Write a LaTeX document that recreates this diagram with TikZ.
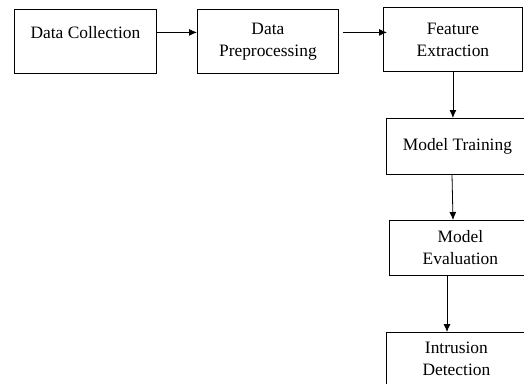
\documentclass[tikz,border=0pt]{standalone}
\usepackage{fontspec}
\setmainfont{Liberation Serif}
\usetikzlibrary{arrows.meta}

\tikzset{
  stage/.style={draw=black,line width=0.8pt,anchor=north west,align=center,
    inner sep=2pt,font=\fontsize{17.4}{22}\selectfont},
  flow/.style={draw=black,line width=0.8pt,-{Latex[length=8pt,width=7pt]}}
}

\begin{document}
\begin{tikzpicture}[x=1pt,y=-1pt]
\useasboundingbox (0,0) rectangle (524,383);
\clip (0,0) rectangle (524,383);

% top row
\node[stage,minimum width=142pt,minimum height=64pt] (dc) at (14,9) {Data Collection\\[-4pt]\mbox{}};
\node[stage,minimum width=141pt,minimum height=64pt] (dp) at (197,9) {Data\\Preprocessing};
\node[stage,minimum width=139pt,minimum height=64pt] (fe) at (383,7) {Feature\\Extraction};

% right column
\node[stage,minimum width=142pt,minimum height=56pt] (mt) at (386,118) {Model Training};
\node[stage,minimum width=142pt,minimum height=55pt] (me) at (389,220) {Model\\Evaluation};
\node[stage,minimum width=140pt,minimum height=52pt] (id) at (386,332) {Intrusion\\Detection};

\draw[flow] ([yshift=9pt]dc.east) -- ([yshift=9pt]dc.east -| dp.west);
\draw[flow] ([xshift=4pt,yshift=9pt]dp.east) -- ([xshift=4pt,yshift=9pt]dp.east -| fe.west);
\draw[flow] (fe.south) -- (fe.south |- mt.north);
\draw[flow] ([xshift=66pt]mt.south west) -- ([xshift=64pt]me.north west);
\draw[flow] ([xshift=58pt]me.south west) -- ([xshift=61pt]id.north west);

\end{tikzpicture}
\end{document}
